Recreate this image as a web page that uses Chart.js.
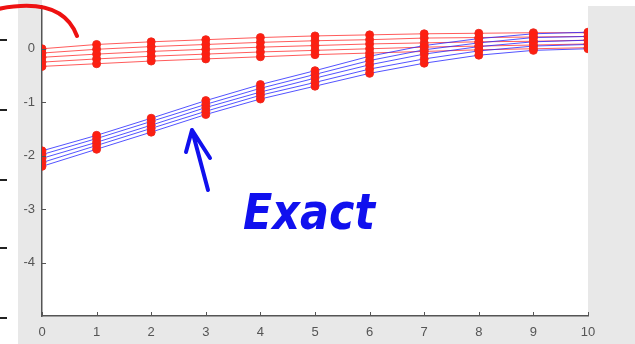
<!DOCTYPE html>
<html>
<head>
<meta charset="utf-8">
<script src="https://cdn.jsdelivr.net/npm/chart.js@4/dist/chart.umd.min.js"></script>
<style>
  html, body { margin: 0; padding: 0; background: #fff; }
  #wrap { width: 635px; height: 344px; }
</style>
</head>
<body>
<div id="wrap"><canvas id="c" width="635" height="344"></canvas></div>
<script>
// x positions (steps)
const xs = [0, 1, 2, 3, 4, 5, 6, 7, 8, 9, 10];
const yTicks = [-4, -3, -2, -1, 0];
const xTicks = [0, 1, 2, 3, 4, 5, 6, 7, 8, 9, 10];

// red group (approximation) - five curves
const red1 = [0.00, 0.08, 0.13, 0.17, 0.21, 0.24, 0.26, 0.28, 0.29, 0.30, 0.30];
const red2 = [-0.08, -0.01, 0.04, 0.08, 0.12, 0.15, 0.17, 0.20, 0.21, 0.22, 0.23];
const red3 = [-0.16, -0.10, -0.05, -0.01, 0.03, 0.06, 0.09, 0.11, 0.13, 0.14, 0.16];
const red4 = [-0.25, -0.19, -0.14, -0.10, -0.06, -0.03, 0.00, 0.03, 0.05, 0.07, 0.09];
const red5 = [-0.33, -0.28, -0.23, -0.19, -0.15, -0.11, -0.08, -0.05, -0.02, 0.00, 0.02];

// blue group (exact) - five curves
const blue1 = [-1.91, -1.62, -1.30, -0.97, -0.67, -0.41, -0.14, 0.06, 0.19, 0.28, 0.31];
const blue2 = [-1.98, -1.68, -1.36, -1.04, -0.74, -0.48, -0.22, -0.02, 0.11, 0.21, 0.23];
const blue3 = [-2.05, -1.75, -1.43, -1.10, -0.81, -0.55, -0.30, -0.10, 0.04, 0.13, 0.16];
const blue4 = [-2.13, -1.81, -1.49, -1.17, -0.87, -0.63, -0.38, -0.19, -0.04, 0.05, 0.08];
const blue5 = [-2.20, -1.88, -1.56, -1.23, -0.94, -0.70, -0.46, -0.27, -0.12, -0.03, 0.00];

const redSeries = [red1, red2, red3, red4, red5];
const blueSeries = [blue1, blue2, blue3, blue4, blue5];

function makeSet(vals, color) {
  return {
    data: vals.map((v, i) => ({ x: xs[i], y: v })),
    borderColor: color,
    borderWidth: 1,
    pointRadius: 4,
    pointBackgroundColor: '#ff1e10',
    pointBorderColor: 'rgba(235,40,30,0.9)',
    pointBorderWidth: 1,
    showLine: true,
    tension: 0
  };
}

const datasets = [];
blueSeries.forEach(s => datasets.push(makeSet(s, 'rgba(40,40,255,0.8)')));
redSeries.forEach(s => datasets.push(makeSet(s, 'rgba(255,50,50,0.8)')));

// page background + plot area
const backdrop = {
  id: 'backdrop',
  beforeDraw(chart) {
    const ctx = chart.ctx, a = chart.chartArea;
    ctx.save();
    ctx.fillStyle = '#e8e8e8';
    ctx.fillRect(0, 0, chart.width, chart.height);
    ctx.fillStyle = '#fff';
    ctx.fillRect(0, 0, 18, chart.height);
    ctx.fillRect(a.left, 0, chart.width - a.left, a.top);
    ctx.fillRect(a.left, a.top, a.right - a.left, a.bottom - a.top);
    // stray dashes at left edge
    ctx.strokeStyle = '#222';
    ctx.lineWidth = 2;
    [40, 110, 180, 248, 318].forEach(y => {
      ctx.beginPath(); ctx.moveTo(0, y); ctx.lineTo(7, y); ctx.stroke();
    });
    ctx.restore();
  },
  afterDatasetsDraw(chart) {
    const ctx = chart.ctx, a = chart.chartArea;
    const xs_ = chart.scales.x, ys_ = chart.scales.y;
    ctx.save();
    // inward tick marks
    ctx.strokeStyle = '#555';
    ctx.lineWidth = 1;
    xTicks.forEach(t => {
      const px = Math.round(xs_.getPixelForValue(t)) + 0.5;
      ctx.beginPath(); ctx.moveTo(px, a.bottom); ctx.lineTo(px, a.bottom - 4); ctx.stroke();
    });
    yTicks.forEach(t => {
      const py = Math.round(ys_.getPixelForValue(t)) + 0.5;
      ctx.beginPath(); ctx.moveTo(a.left, py); ctx.lineTo(a.left + 4, py); ctx.stroke();
    });
    // red hand-drawn arc
    ctx.strokeStyle = '#ee1111';
    ctx.lineWidth = 4;
    ctx.lineCap = 'round';
    ctx.beginPath();
    ctx.moveTo(-2, 9);
    ctx.quadraticCurveTo(62, -4, 77, 36);
    ctx.stroke();
    // blue arrow
    ctx.strokeStyle = '#1010ee';
    ctx.lineWidth = 4;
    ctx.lineJoin = 'round';
    ctx.beginPath();
    ctx.moveTo(208, 190); ctx.lineTo(192, 130);
    ctx.moveTo(186, 152); ctx.lineTo(192, 130); ctx.lineTo(210, 158);
    ctx.stroke();
    // handwritten label
    ctx.fillStyle = '#1010ee';
    ctx.font = 'italic bold 50px "DejaVu Sans"';
    ctx.textBaseline = 'alphabetic';
    ctx.fillText('Exact', 243, 229, 132);
    ctx.restore();
  }
};

new Chart(document.getElementById('c'), {
  type: 'scatter',
  data: { datasets },
  plugins: [backdrop],
  options: {
    responsive: false,
    animation: false,
    layout: { padding: { left: 0, right: 47, top: 6, bottom: 0 } },
    plugins: { legend: { display: false }, tooltip: { enabled: false } },
    scales: {
      x: {
        type: 'linear', min: 0, max: 10,
        afterBuildTicks: s => { s.ticks = xTicks.map(v => ({ value: v })); },
        afterFit: s => { s.height = 28; s.paddingLeft = 0; s.paddingRight = 0; },
        grid: { display: false, drawTicks: false },
        border: { display: true, color: '#555', width: 1.5 },
        ticks: { color: '#555', padding: 9, font: { family: 'Liberation Sans', size: 13 }, maxRotation: 0 }
      },
      y: {
        type: 'linear', min: -5, max: 0.8,
        afterBuildTicks: s => { s.ticks = yTicks.map(v => ({ value: v })); },
        afterFit: s => { s.width = 42; s.paddingTop = 0; s.paddingBottom = 0; },
        grid: { display: false, drawTicks: false },
        border: { display: true, color: '#555', width: 1.5 },
        ticks: { color: '#555', padding: 7, font: { family: 'Liberation Sans', size: 13 } }
      }
    }
  }
});
</script>
</body>
</html>
